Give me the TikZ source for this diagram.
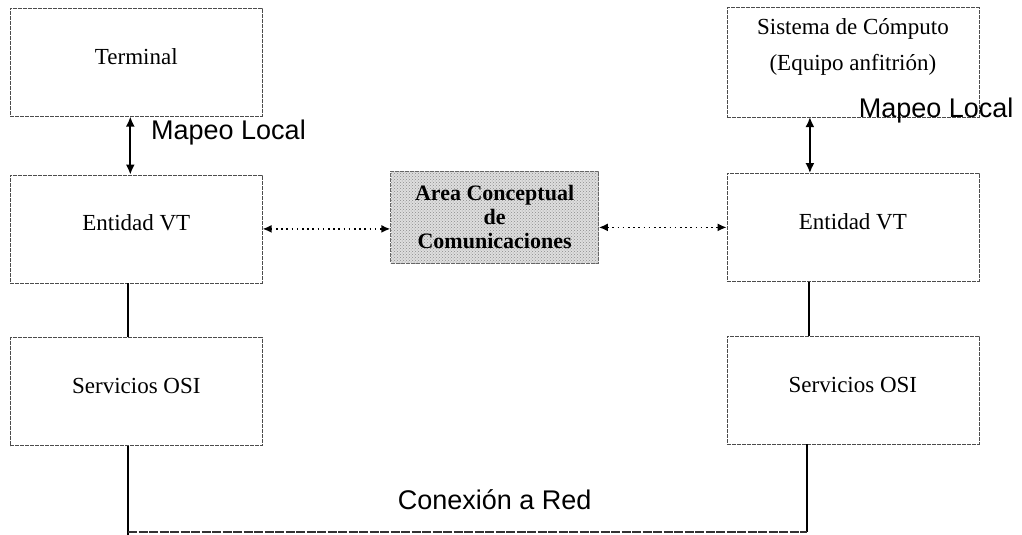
\documentclass[tikz,border=0pt]{standalone}
\usepackage{fontspec}
\setmainfont{Liberation Serif}
\newfontfamily\labelsans{Liberation Sans}
\usetikzlibrary{arrows.meta, positioning, calc, patterns}

\begin{document}
\begin{tikzpicture}[
    x=1pt, y=-1pt,
    box/.style={draw=black!70, line width=0.6pt, dash pattern=on 4pt off 1pt, minimum width=252pt, inner xsep=0pt, inner ysep=0pt, text height=56pt, text depth=52pt, font={\fontsize{23}{27}\selectfont}},
    area/.style={draw=black!60, line width=0.6pt, dash pattern=on 4pt off 1pt, preaction={fill=black!13}, pattern=crosshatch dots, pattern color=black!45, minimum width=208pt, minimum height=92pt, align=center, font={\fontsize{22}{24}\selectfont\bfseries}},
    maparrow/.style={{Latex[length=10pt,width=9pt]}-{Latex[length=10pt,width=9pt]}, line width=1.8pt},
    linkarrow/.style={{Latex[length=9pt,width=8pt]}-{Latex[length=9pt,width=8pt]}, line width=1.6pt, dash pattern=on 1.6pt off 3.6pt},
    wire/.style={line width=2pt},
    bus/.style={line width=1.3pt, draw=black!80, dash pattern=on 9pt off 1.5pt},
    maplabel/.style={font={\labelsans\fontsize{27}{30}\selectfont}, inner sep=0pt, anchor=base west},
    netlabel/.style={font={\labelsans\fontsize{27}{30}\selectfont}, inner sep=0pt}
]
\useasboundingbox (0,0) rectangle (1022,535);

% terminal side
\node[box, anchor=north west] (term) at (10,8) {Terminal};
\node[box, below=58pt of term] (entL) {Entidad VT};
\node[box, below=54pt of entL] (osiL) {Servicios OSI};

% host side
\node[box, right=464pt of term, align=center, text height=63pt, text depth=46pt] (host) {Sistema de Cómputo\\[9pt](Equipo anfitrión)};
\node[box, below=56pt of host] (entR) {Entidad VT};
\node[box, below=54pt of entR] (osiR) {Servicios OSI};

% shared area in the middle
\node[area, yshift=11pt] (area) at ($(entL.east)!0.5!(entR.west)$) {Area Conceptual\\de\\Comunicaciones};

\draw[maparrow] ([xshift=-6pt]term.south) -- ([xshift=-6pt]entL.north) node[maplabel, pos=0.4, xshift=20pt] {Mapeo Local};
\draw[maparrow] ([xshift=-43pt]host.south) -- ([xshift=-43pt]entR.north) node[maplabel, pos=0, xshift=48pt] {Mapeo Local};

\draw[linkarrow] (entL.east) -- (entL.east -| area.west);
\draw[linkarrow] (area.east |- entR.west) -- (entR.west);

\draw[wire] ([xshift=-8pt]entL.south) -- ([xshift=-8pt]osiL.north);
\draw[wire] ([xshift=-44pt]entR.south) -- ([xshift=-44pt]osiR.north);

% network link
\coordinate (netL) at (128,535);
\coordinate (netR) at (807,532);
\draw[wire] (osiL.south -| netL) -- (netL);
\draw[wire] (osiR.south -| netR) -- (netR);
\draw[bus] (netL |- netR) -- (netR) node[netlabel, pos=0.54, above=22pt] {Conexión a Red};
\end{tikzpicture}
\end{document}
